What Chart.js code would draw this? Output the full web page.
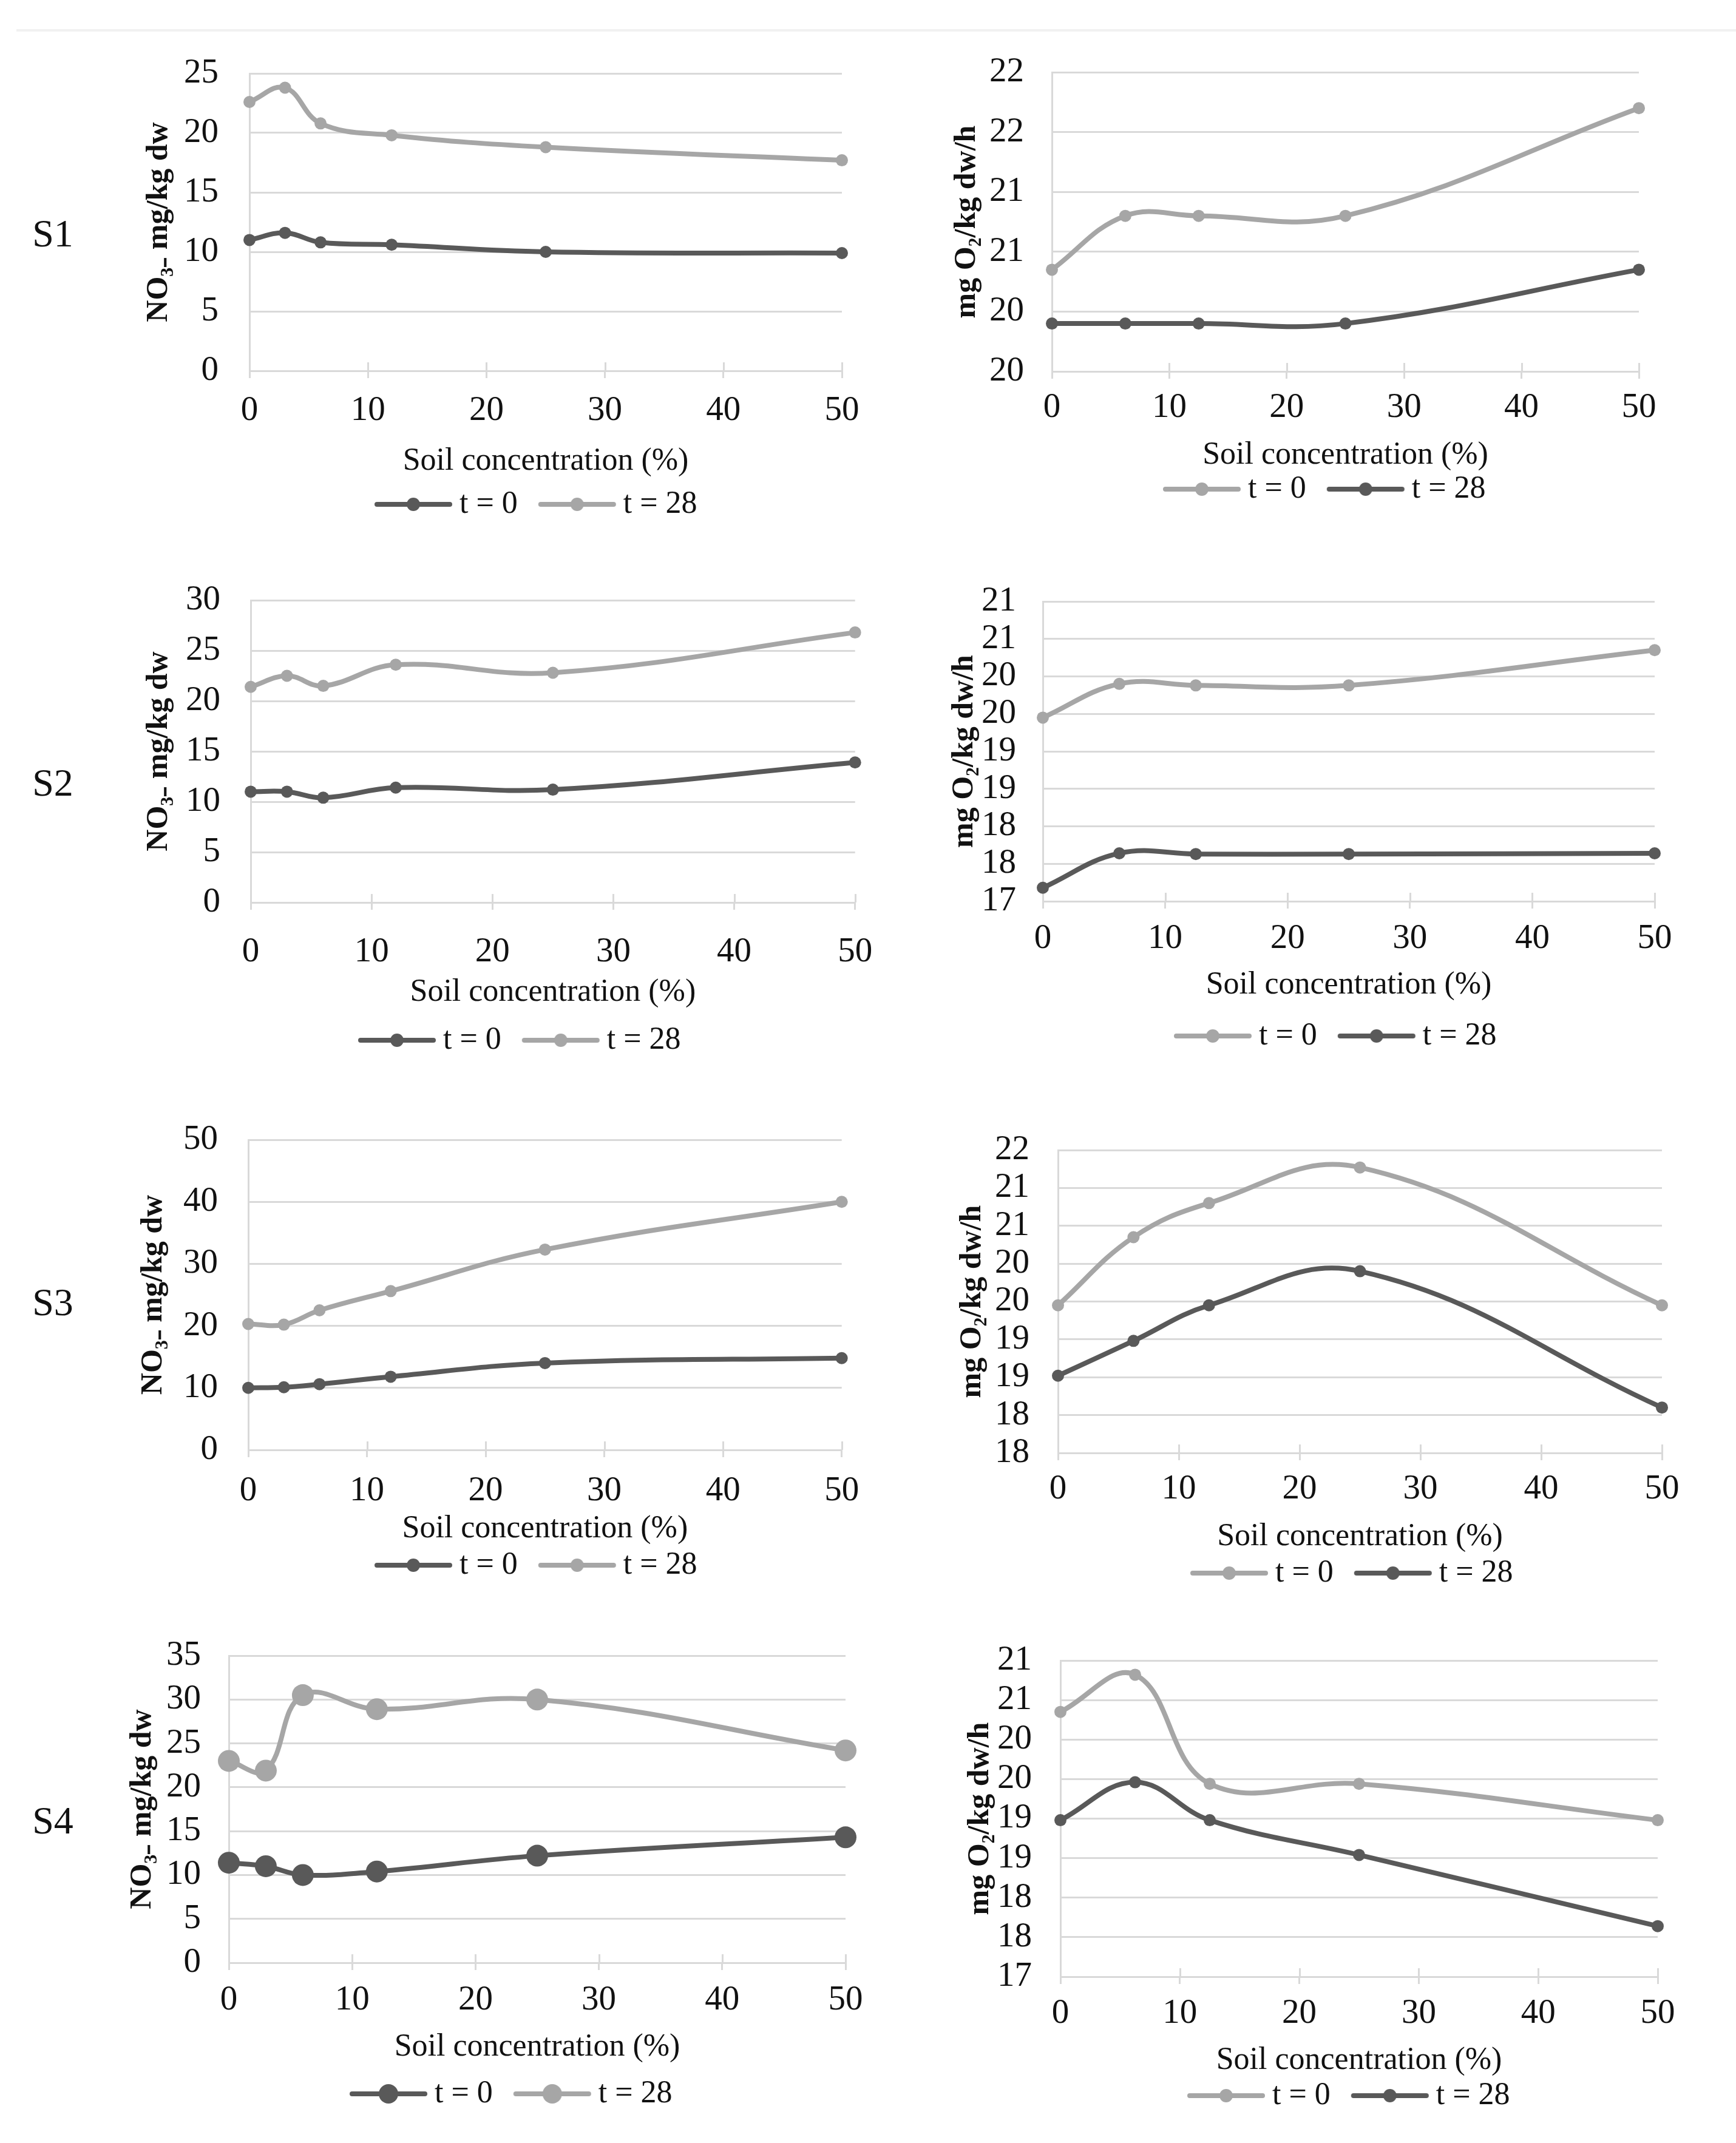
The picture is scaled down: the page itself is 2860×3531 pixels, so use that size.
<!DOCTYPE html>
<html><head><meta charset="utf-8">
<script src="https://cdn.jsdelivr.net/npm/chart.js@4.4.1/dist/chart.umd.min.js"></script>
<style>
html,body{margin:0;padding:0;background:#fff;}
#page{position:relative;width:2860px;height:3531px;overflow:hidden;background:#fff;}
#page canvas{position:absolute;}
.slab{position:absolute;font-family:'Liberation Serif','Times New Roman',serif;font-size:64px;color:#111;transform:translate(-50%,-50%);line-height:1;white-space:nowrap;}
.rule{position:absolute;left:27px;top:48px;width:2833px;height:4px;background:#f1f1f1;}
</style></head>
<body><div id="page"><div class="rule"></div></div>
<script>
// ---------------- data ----------------
const xLeft  = [0, 3, 6, 12, 25, 50];
const xRight = [0, 6.25, 12.5, 25, 50];
const xTickVals = [0, 10, 20, 30, 40, 50];
const legendLabels = ['t = 0', 't = 28'];
const sampleLabels = ['S1', 'S2', 'S3', 'S4'];
const xTitle = 'Soil concentration (%)';
const yTitleNO3 = 'NO\u2083\u208B mg/kg dw';
const yTitleO2 = 'mg O\u2082/kg dw/h';

const s1No3T0  = [11.0, 11.6, 10.8, 10.6, 10.0, 9.9];
const s1No3T28 = [22.6, 23.8, 20.8, 19.8, 18.8, 17.7];
const s1O2T0   = [20.35, 20.8, 20.8, 20.8, 21.7];
const s1O2T28  = [19.9, 19.9, 19.9, 19.9, 20.35];

const s2No3T0  = [11.0, 11.0, 10.4, 11.4, 11.2, 13.9];
const s2No3T28 = [21.4, 22.5, 21.5, 23.6, 22.8, 26.8];
const s2O2T0   = [19.45, 19.9, 19.88, 19.88, 20.35];
const s2O2T28  = [17.18, 17.64, 17.63, 17.63, 17.64];

const s3No3T0  = [10.0, 10.1, 10.6, 11.8, 14.0, 14.8];
const s3No3T28 = [20.3, 20.2, 22.5, 25.6, 32.3, 40.0];
const s3O2T0   = [19.45, 20.35, 20.8, 21.27, 19.45];
const s3O2T28  = [18.52, 18.98, 19.45, 19.9, 18.1];

const s4No3T0  = [11.4, 11.0, 10.0, 10.4, 12.2, 14.3];
const s4No3T28 = [23.0, 21.9, 30.5, 28.9, 30.0, 24.2];
const s4O2T0   = [20.35, 20.82, 19.44, 19.44, 18.98];
const s4O2T28  = [18.98, 19.46, 18.98, 18.54, 17.64];

const yTicksS1No3 = [0, 5, 10, 15, 20, 25];
const yTicksS2No3 = [0, 5, 10, 15, 20, 25, 30];
const yTicksS3No3 = [0, 10, 20, 30, 40, 50];
const yTicksS4No3 = [0, 5, 10, 15, 20, 25, 30, 35];
const yTicksS1O2 = [19.5, 20, 20.5, 21, 21.5, 22];
const yTicksS2O2 = [17, 17.5, 18, 18.5, 19, 19.5, 20, 20.5, 21];
const yTicksS3O2 = [17.5, 18, 18.5, 19, 19.5, 20, 20.5, 21, 21.5];
const yTicksS4O2 = [17, 17.5, 18, 18.5, 19, 19.5, 20, 20.5, 21];

// ---------------- layout / style ----------------
const FAMILY = "'Liberation Serif','Times New Roman',serif";
const TEXT = '#111111';
const GRID = '#d9d9d9';
const DARK = '#595959';
const LIGHT = '#a6a6a6';
Chart.defaults.font.family = FAMILY;

const geom = {
  s1n: {L:411, R:1387, T:121, B:611, xTick:677, xTitle:760, leg:831, legLeft:616, yTitleX:262, yTickRight:360},
  s1o: {L:1733, R:2700, T:119, B:612, xTick:672, xTitle:750, leg:806, legLeft:1915, yTitleX:1593, yTickRight:1687},
  s2n: {L:413, R:1423, T:989, B:1487, xTick:1569, xTitle:1635, leg:1714, legLeft:589, yTitleX:262, yTickRight:363},
  s2o: {L:1718, R:2726, T:991, B:1485, xTick:1547, xTitle:1623, leg:1707, legLeft:1933, yTitleX:1589, yTickRight:1674},
  s3n: {L:409, R:1387, T:1878, B:2389, xTick:2457, xTitle:2519, leg:2579, legLeft:616, yTitleX:253, yTickRight:359},
  s3o: {L:1743, R:2738, T:1895, B:2394, xTick:2454, xTitle:2532, leg:2592, legLeft:1960, yTitleX:1602, yTickRight:1696},
  s4n: {L:377, R:1393, T:2728, B:3234, xTick:3296, xTitle:3373, leg:3450, legLeft:575, yTitleX:235, yTickRight:331},
  s4o: {L:1747, R:2731, T:2736, B:3257, xTick:3318, xTitle:3395, leg:3453, legLeft:1955, yTitleX:1615, yTickRight:1700}
};
const sLabelPos = [[87, 385], [87, 1290], [87, 2146], [87, 3000]];

const TICK_FONT = 57, XT_FONT = 52, YT_FONT = 50, LEG_FONT = 52, LEG_PAD = 48;
const BOXW = 100, ICONW = 130, LINEW = 8;

const crossTicks = {
  id: 'crossTicks',
  beforeDatasetsDraw(chart) {
    const xs = chart.scales.x, ctx = chart.ctx, b = chart.chartArea.bottom;
    ctx.save();
    ctx.strokeStyle = GRID; ctx.lineWidth = 3;
    xs.ticks.forEach(t => {
      const px = Math.round(xs.getPixelForValue(t.value)) + 0.5;
      ctx.beginPath(); ctx.moveTo(px, b - 14); ctx.lineTo(px, b); ctx.stroke();
    });
    ctx.restore();
  }
};

function makeIcon(color, r) {
  const c = document.createElement('canvas');
  c.width = ICONW; c.height = 2 * r + 6;
  const x = c.getContext('2d');
  const cy = c.height / 2;
  x.strokeStyle = color; x.lineWidth = LINEW; x.lineCap = 'round';
  x.beginPath(); x.moveTo(5, cy); x.lineTo(ICONW - 5, cy); x.stroke();
  x.fillStyle = color; x.beginPath(); x.arc(ICONW / 2, cy, r, 0, Math.PI * 2); x.fill();
  return c;
}

function panel(g, o) {
  const PT = 60, PR = 50, PB = 20;
  const X0 = g.yTitleX - 50, Y0 = g.T - PT;
  const m = document.createElement('canvas').getContext('2d');
  m.font = LEG_FONT + 'px ' + FAMILY;
  const iw = legendLabels.map(t => BOXW + LEG_FONT / 2 + m.measureText(t).width);
  const span = iw[0] + LEG_PAD + iw[1];
  const Bc = g.legLeft + (ICONW - BOXW) / 2 + span / 2;
  const W = Math.round(g.R + PR - X0);
  const PL = 2 * Bc - g.R - X0;
  const YW = g.L - X0 - PL;
  const XH = g.leg - g.B - (LEG_PAD + LEG_FONT / 2);
  const legH = LEG_FONT + LEG_PAD + 10;
  const H = Math.round((g.B - Y0) + XH + legH + PB);

  const fmt = v => o.round ? String(Math.round(v)) : String(v);
  m.font = TICK_FONT + 'px ' + FAMILY;
  const widest = Math.max(...o.yTicks.map(v => m.measureText(fmt(v)).width));

  const cv = document.createElement('canvas');
  cv.width = W; cv.height = H;
  cv.style.left = X0 + 'px'; cv.style.top = Y0 + 'px';
  cv.style.width = W + 'px'; cv.style.height = H + 'px';
  document.getElementById('page').appendChild(cv);

  const icons = [makeIcon(o.c[0], o.legR), makeIcon(o.c[1], o.legR)];
  const series = [o.s0, o.s28];
  const datasets = series.map((s, k) => ({
    label: legendLabels[k],
    data: o.x.map((v, i) => ({x: v, y: s[i]})),
    borderColor: o.c[k], backgroundColor: o.c[k],
    pointBackgroundColor: o.c[k], pointBorderColor: o.c[k],
    pointBorderWidth: 0, pointRadius: o.r, pointHoverRadius: o.r,
    borderWidth: LINEW, tension: 0.4, clip: false,
    borderCapStyle: 'round', borderJoinStyle: 'round'
  }));

  new Chart(cv, {
    type: 'line',
    data: {datasets},
    plugins: [crossTicks],
    options: {
      responsive: false, animation: false, devicePixelRatio: 1,
      layout: {padding: {left: PL, right: PR, top: PT, bottom: PB}},
      plugins: {
        tooltip: {enabled: false},
        legend: {
          position: 'bottom',
          labels: {
            usePointStyle: true, pointStyleWidth: BOXW, padding: LEG_PAD, color: TEXT,
            font: {size: LEG_FONT, family: FAMILY},
            generateLabels(chart) {
              const items = Chart.defaults.plugins.legend.labels.generateLabels(chart);
              items.forEach((it, i) => { it.pointStyle = icons[i]; it.fontColor = TEXT; });
              return items;
            }
          }
        }
      },
      scales: {
        x: {
          type: 'linear', min: xTickVals[0], max: xTickVals[xTickVals.length - 1],
          afterBuildTicks: s => { s.ticks = xTickVals.map(v => ({value: v})); },
          afterFit: s => { s.height = XH; },
          grid: {drawOnChartArea: false, color: GRID, lineWidth: 3, tickLength: 12},
          border: {color: GRID, width: 3},
          ticks: {autoSkip: false, padding: g.xTick - g.B - 12 - TICK_FONT * 0.6, color: TEXT, font: {size: TICK_FONT}, maxRotation: 0},
          title: {display: true, text: xTitle, color: TEXT, font: {size: XT_FONT},
                  padding: {top: 0, bottom: g.B + XH - XT_FONT * 0.6 - g.xTitle}}
        },
        y: {
          type: 'linear', min: o.yTicks[0], max: o.yTicks[o.yTicks.length - 1],
          afterBuildTicks: s => { s.ticks = o.yTicks.map(v => ({value: v})); },
          afterFit: s => { s.width = YW; },
          grid: {color: GRID, lineWidth: 3, drawTicks: false},
          border: {color: GRID, width: 3},
          ticks: {autoSkip: false, mirror: true, crossAlign: 'far', padding: -(g.L - g.yTickRight) - widest,
                  color: TEXT, font: {size: TICK_FONT}, callback: v => fmt(v)},
          title: {display: true, text: o.yTitle, color: TEXT, font: {size: YT_FONT, weight: 'bold'},
                  padding: {top: g.yTitleX - (X0 + PL) - YT_FONT * 0.6, bottom: 0}}
        }
      }
    }
  });
}

panel(geom.s1n, {x: xLeft, s0: s1No3T0, s28: s1No3T28, c: [DARK, LIGHT], yTicks: yTicksS1No3, yTitle: yTitleNO3, round: false, r: 10, legR: 11});
panel(geom.s1o, {x: xRight, s0: s1O2T0, s28: s1O2T28, c: [LIGHT, DARK], yTicks: yTicksS1O2, yTitle: yTitleO2, round: true, r: 10, legR: 11});
panel(geom.s2n, {x: xLeft, s0: s2No3T0, s28: s2No3T28, c: [DARK, LIGHT], yTicks: yTicksS2No3, yTitle: yTitleNO3, round: false, r: 10, legR: 11});
panel(geom.s2o, {x: xRight, s0: s2O2T0, s28: s2O2T28, c: [LIGHT, DARK], yTicks: yTicksS2O2, yTitle: yTitleO2, round: true, r: 10, legR: 11});
panel(geom.s3n, {x: xLeft, s0: s3No3T0, s28: s3No3T28, c: [DARK, LIGHT], yTicks: yTicksS3No3, yTitle: yTitleNO3, round: false, r: 10, legR: 11});
panel(geom.s3o, {x: xRight, s0: s3O2T0, s28: s3O2T28, c: [LIGHT, DARK], yTicks: yTicksS3O2, yTitle: yTitleO2, round: true, r: 10, legR: 11});
panel(geom.s4n, {x: xLeft, s0: s4No3T0, s28: s4No3T28, c: [DARK, LIGHT], yTicks: yTicksS4No3, yTitle: yTitleNO3, round: false, r: 18, legR: 16});
panel(geom.s4o, {x: xRight, s0: s4O2T0, s28: s4O2T28, c: [LIGHT, DARK], yTicks: yTicksS4O2, yTitle: yTitleO2, round: true, r: 10, legR: 11});

sampleLabels.forEach((t, i) => {
  const d = document.createElement('div');
  d.className = 'slab'; d.textContent = t;
  d.style.left = sLabelPos[i][0] + 'px'; d.style.top = sLabelPos[i][1] + 'px';
  document.getElementById('page').appendChild(d);
});
</script>
</body></html>
